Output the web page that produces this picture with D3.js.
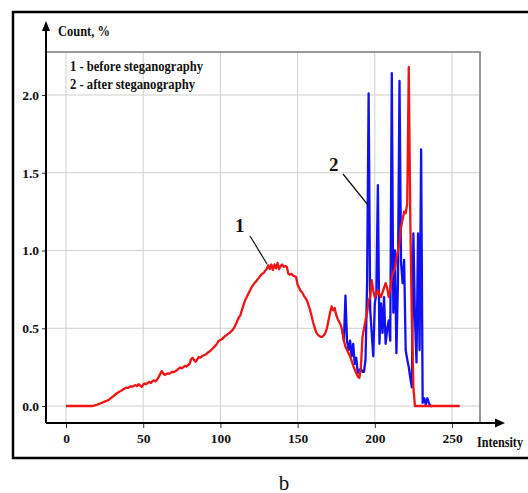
<!DOCTYPE html>
<html>
<head>
<meta charset="utf-8">
<script src="https://cdn.jsdelivr.net/npm/d3@7"></script>
<style>
  body { margin: 0; background: #fff; }
  text { font-family: "Liberation Serif", "Times New Roman", serif; }
</style>
</head>
<body>
<svg id="chart" width="528" height="493"></svg>
<script>
let width = 528,
  height = 493;

// intensity ticks and y ticks
let x_ticks = [0, 50, 100, 150, 200, 250]
let y_ticks = [0, 0.5, 1.0, 1.5, 2.0]

// histogram before steganography, intensity 0..255 (count, %)
let before = [
  0, 0, 0, 0, 0, 0, 0, 0, 0, 0, 0, 0, 0, 0, 0, 0, 0, 0,
  0.003, 0.005, 0.008, 0.012, 0.016, 0.02, 0.024, 0.028, 0.032, 0.036, 0.042,
  0.05, 0.058, 0.066, 0.074, 0.082, 0.088, 0.094, 0.10, 0.106, 0.112, 0.118,
  0.116, 0.122, 0.126, 0.124, 0.13, 0.134, 0.128, 0.14, 0.132, 0.122,
  0.138, 0.145, 0.14, 0.15, 0.155, 0.148, 0.16, 0.165, 0.158, 0.17,
  0.185, 0.205, 0.225, 0.21, 0.2, 0.205, 0.21, 0.208, 0.215, 0.22,
  0.218, 0.225, 0.232, 0.24, 0.248, 0.242, 0.25, 0.258, 0.254, 0.262,
  0.27, 0.3, 0.31, 0.295, 0.285, 0.3, 0.315, 0.31, 0.32, 0.325,
  0.33, 0.335, 0.345, 0.35, 0.36, 0.37, 0.38, 0.39, 0.405, 0.42,
  0.425, 0.43, 0.44, 0.45, 0.455, 0.465, 0.47, 0.48, 0.49, 0.505,
  0.525, 0.55, 0.57, 0.585, 0.62, 0.65, 0.68, 0.70, 0.72, 0.74,
  0.76, 0.775, 0.79, 0.80, 0.815, 0.825, 0.84, 0.85, 0.855, 0.87,
  0.88, 0.905, 0.88, 0.91, 0.875, 0.91, 0.885, 0.92, 0.88, 0.9,
  0.91, 0.895, 0.9, 0.895, 0.85, 0.845, 0.85, 0.84, 0.835, 0.83,
  0.78, 0.76, 0.74, 0.73, 0.71, 0.695, 0.68, 0.65, 0.62, 0.58,
  0.54, 0.505, 0.475, 0.46, 0.45, 0.445, 0.445, 0.455, 0.47, 0.5,
  0.55, 0.6, 0.64, 0.615, 0.63, 0.585, 0.56, 0.54, 0.52, 0.48,
  0.42, 0.38, 0.36, 0.34, 0.32, 0.29, 0.26, 0.235, 0.21, 0.19,
  0.18, 0.25, 0.44, 0.5, 0.55, 0.6, 0.68, 0.7, 0.81, 0.74,
  0.7, 0.72, 0.745, 0.72, 0.7, 0.73, 0.76, 0.79, 0.76, 0.7,
  0.75, 0.83, 0.86, 0.88, 0.95, 1.0, 1.05, 1.15, 1.2, 1.25,
  1.24, 1.3, 2.18, 1.2, 0.55, 0.12, 0, 0, 0, 0,
  0, 0, 0, 0, 0, 0, 0, 0, 0, 0, 0, 0, 0,
  0, 0, 0, 0, 0, 0, 0, 0, 0, 0, 0, 0, 0
]

// histogram after steganography; below 179 it is the same as before
let after_from = 179
let after = [
  0.48, 0.42, 0.71, 0.42, 0.36, 0.42, 0.32, 0.40, 0.27, 0.31,
  0.21, 0.23, 0.24, 0.22, 0.22, 0.30, 0.79, 2.01, 0.62, 0.47,
  0.32, 0.66, 0.72, 1.42, 0.40, 0.66, 0.47, 0.70, 0.40, 0.49,
  0.55, 0.42, 2.14, 0.60, 1.00, 0.34, 0.80, 2.09, 0.92, 0.79,
  0.94, 0.36, 0.30, 0.25, 0.18, 0.12, 1.11, 0.57, 0.28, 1.11,
  0.36, 1.65, 0.02, 0.05, 0.01, 0.05, 0.02, 0, 0
]

let legend = ["1 - before steganography", "2 - after steganography"]

let box = { left: 46, right: 480, top: 52, bottom: 423 }

let scales = {
  x: d3.scaleLinear().domain([0, 250]).range([66, 452]),
  y: d3.scaleLinear().domain([0, 2]).range([406, 95])
}

let svg = d3.select("#chart")

// outer frame
svg.append("rect")
  .attr("x", 13).attr("y", 12)
  .attr("width", 530).attr("height", 446)
  .attr("fill", "none").attr("stroke", "#000").attr("stroke-width", 2.5)

// grid
svg.append("g").selectAll("line")
  .data(x_ticks).enter()
  .append("line")
  .attr("x1", d => scales.x(d)).attr("x2", d => scales.x(d))
  .attr("y1", box.top).attr("y2", box.bottom)
  .attr("stroke", "#cfcfcf").attr("stroke-width", 1)

svg.append("g").selectAll("line")
  .data(y_ticks).enter()
  .append("line")
  .attr("x1", box.left).attr("x2", box.right)
  .attr("y1", d => scales.y(d)).attr("y2", d => scales.y(d))
  .attr("stroke", "#cfcfcf").attr("stroke-width", 1)

// plot box top and right
svg.append("path")
  .attr("d", `M${box.left},${box.top}H${box.right}V${box.bottom}`)
  .attr("fill", "none").attr("stroke", "#7a7a7a").attr("stroke-width", 1.5)

// axes
let axis = {
  x: d3.axisBottom(scales.x).tickValues(x_ticks).tickSize(5).tickPadding(5),
  y: d3.axisLeft(scales.y).tickValues(y_ticks).tickFormat(d3.format(".1f")).tickSize(4).tickPadding(3)
}

let gx = svg.append("g").attr("transform", `translate(0,${box.bottom})`).call(axis.x)
let gy = svg.append("g").attr("transform", `translate(${box.left},0)`).call(axis.y)
for (let g of [gx, gy]) {
  g.select(".domain").remove()
  g.selectAll("text")
    .attr("font-family", "Liberation Serif")
    .attr("font-weight", "bold")
    .attr("font-size", 13.5)
    .attr("fill", "#111")
  g.selectAll("line").attr("stroke", "#333")
}

// axis lines with arrows
svg.append("line")
  .attr("x1", box.left).attr("x2", 498)
  .attr("y1", box.bottom).attr("y2", box.bottom)
  .attr("stroke", "#000").attr("stroke-width", 2)
svg.append("path")
  .attr("d", `M505,${box.bottom}l-10,-4.5v9z`)
  .attr("fill", "#000")
svg.append("line")
  .attr("x1", box.left).attr("x2", box.left)
  .attr("y1", box.bottom).attr("y2", 28)
  .attr("stroke", "#000").attr("stroke-width", 2)
svg.append("path")
  .attr("d", `M${box.left},21l-4,10h8z`)
  .attr("fill", "#000")

// curves
let line_gen = d3.line()
  .x(d => scales.x(d[0]))
  .y(d => scales.y(d[1]))

svg.append("path")
  .datum(after.map((v, i) => [after_from + i, v]))
  .attr("d", line_gen)
  .attr("fill", "none").attr("stroke", "#1010f0").attr("stroke-width", 2.3)
  .attr("stroke-linejoin", "round")

svg.append("path")
  .datum(before.map((v, i) => [i, v]))
  .attr("d", line_gen)
  .attr("fill", "none").attr("stroke", "#ee1515").attr("stroke-width", 2.3)
  .attr("stroke-linejoin", "round")

// labels
function label(x, y, txt, size, len, weight) {
  let t = svg.append("text")
    .attr("x", x).attr("y", y)
    .attr("font-size", size)
    .attr("font-weight", weight || "bold")
    .attr("fill", "#111")
    .text(txt)
  if (len) t.attr("textLength", len).attr("lengthAdjust", "spacingAndGlyphs")
  return t
}

label(58, 36, "Count, %", 14, 52)
label(477, 447, "Intensity", 14, 46)
legend.forEach((d, i) => label(70, 71 + i * 18, d, 14, i == 0 ? 133 : 125))

// callouts
label(235, 232, "1", 19)
svg.append("line")
  .attr("x1", 250).attr("y1", 236).attr("x2", 267).attr("y2", 264)
  .attr("stroke", "#111").attr("stroke-width", 1.2)
label(329, 171, "2", 19)
svg.append("line")
  .attr("x1", 343).attr("y1", 174).attr("x2", 368).attr("y2", 205)
  .attr("stroke", "#111").attr("stroke-width", 1.2)

label(284, 490, "b", 21, null, "normal").attr("text-anchor", "middle")
</script>
</body>
</html>
